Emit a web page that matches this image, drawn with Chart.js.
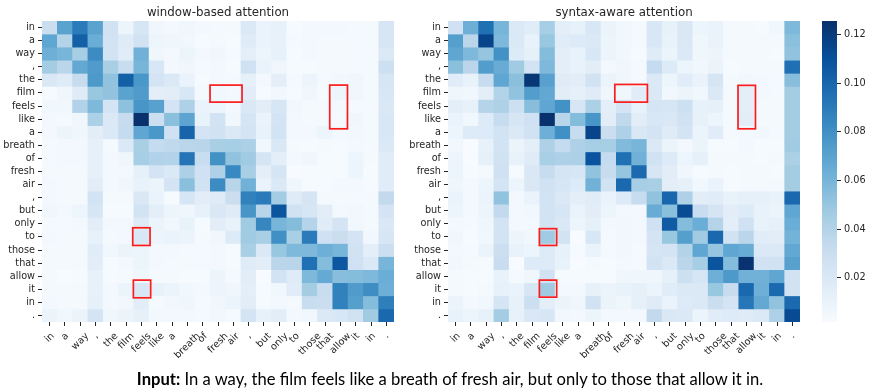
<!DOCTYPE html>
<html>
<head>
<meta charset="utf-8">
<script src="https://cdn.jsdelivr.net/npm/chart.js@4"></script>
<style>
    html, body { margin: 0; padding: 0; background: #fff; }
    #page { position: relative; width: 871px; height: 392px; overflow: hidden; }
    canvas { position: absolute; top: 0; }
    #caption { position: absolute; left: 0; width: 900px; top: 369px; text-align: center; font: 16.6px Lato, sans-serif; color: #000; white-space: nowrap; }
</style>
</head>
<body>
<div id="page">
    <canvas id="left" width="405" height="392" style="left:0"></canvas>
    <canvas id="right" width="405" height="392" style="left:405px"></canvas>
    <canvas id="bar" width="61" height="392" style="left:810px"></canvas>
    <div id="caption"><b>Input:</b> In a way, the film feels like a breath of fresh air, but only to those that allow it in.</div>
</div>
<script>
var tokens = ["in", "a", "way", ",", "the", "film", "feels", "like", "a", "breath", "of", "fresh", "air", ",", "but", "only", "to", "those", "that", "allow", "it", "in", "."];

// attention values x 1000
var windowAttention = [
    [30, 70, 90, 70, 26, 8, 22, 7, 5, 7, 5, 4, 4, 19, 10, 12, 3, 5, 5, 5, 4, 4, 22],
    [68, 40, 103, 64, 25, 17, 26, 8, 7, 6, 3, 4, 3, 17, 10, 12, 4, 5, 4, 4, 4, 4, 22],
    [63, 60, 45, 82, 25, 16, 62, 7, 5, 8, 5, 7, 4, 14, 8, 12, 3, 5, 4, 4, 4, 4, 19],
    [46, 37, 67, 74, 44, 31, 60, 21, 5, 7, 4, 5, 3, 27, 10, 7, 3, 3, 4, 4, 4, 4, 28],
    [20, 17, 32, 75, 52, 103, 76, 24, 19, 10, 3, 5, 4, 13, 5, 14, 4, 8, 4, 6, 7, 4, 22],
    [3, 7, 17, 50, 52, 70, 74, 14, 15, 21, 4, 6, 5, 15, 3, 6, 3, 7, 3, 8, 7, 4, 21],
    [6, 6, 41, 58, 24, 53, 77, 71, 24, 42, 10, 8, 5, 20, 15, 22, 6, 4, 4, 5, 4, 4, 20],
    [5, 4, 7, 43, 19, 32, 125, 29, 54, 69, 11, 25, 6, 23, 10, 24, 5, 4, 4, 4, 7, 4, 21],
    [5, 8, 7, 15, 19, 33, 68, 76, 27, 101, 24, 26, 19, 24, 11, 25, 5, 5, 8, 5, 6, 4, 21],
    [4, 5, 5, 13, 4, 19, 44, 33, 35, 37, 38, 44, 45, 43, 6, 20, 4, 3, 4, 3, 5, 4, 19],
    [4, 5, 5, 13, 5, 7, 45, 41, 40, 93, 31, 79, 52, 47, 23, 14, 5, 7, 3, 3, 8, 4, 16],
    [4, 4, 4, 13, 5, 5, 13, 24, 19, 43, 27, 42, 84, 44, 14, 23, 2, 3, 3, 3, 8, 3, 16],
    [5, 4, 4, 15, 5, 7, 11, 9, 24, 54, 26, 82, 38, 62, 10, 19, 7, 3, 3, 5, 5, 3, 16],
    [5, 4, 4, 25, 4, 4, 20, 10, 3, 22, 15, 17, 30, 87, 90, 46, 17, 23, 4, 4, 4, 4, 34],
    [7, 5, 8, 22, 3, 3, 25, 14, 8, 7, 12, 20, 17, 77, 38, 108, 26, 22, 15, 5, 6, 4, 24],
    [4, 4, 5, 15, 5, 5, 18, 9, 6, 11, 3, 15, 11, 47, 85, 60, 56, 39, 16, 24, 6, 4, 20],
    [5, 4, 4, 12, 4, 5, 21, 8, 10, 9, 4, 7, 18, 47, 44, 80, 44, 90, 27, 30, 24, 6, 22],
    [4, 4, 4, 16, 6, 9, 8, 5, 5, 4, 4, 5, 3, 44, 19, 50, 58, 58, 63, 60, 26, 14, 29],
    [4, 4, 4, 15, 3, 5, 8, 5, 4, 4, 4, 5, 3, 17, 15, 37, 38, 95, 56, 107, 27, 19, 60],
    [4, 2, 3, 12, 3, 4, 7, 4, 4, 3, 3, 8, 4, 15, 2, 25, 17, 58, 66, 55, 56, 58, 64],
    [4, 4, 4, 12, 5, 9, 21, 12, 9, 6, 5, 8, 7, 14, 3, 6, 16, 46, 31, 87, 74, 81, 63],
    [5, 4, 4, 13, 5, 6, 15, 4, 6, 7, 4, 7, 9, 15, 3, 5, 4, 31, 30, 87, 72, 56, 88],
    [9, 6, 9, 24, 7, 9, 13, 5, 5, 5, 4, 6, 4, 24, 12, 15, 5, 6, 19, 21, 26, 47, 99]
];
var syntaxAttention = [
    [27, 63, 95, 60, 19, 16, 45, 14, 12, 21, 9, 6, 4, 21, 12, 20, 8, 10, 4, 4, 3, 6, 58],
    [72, 37, 116, 58, 19, 11, 50, 16, 18, 19, 8, 6, 4, 21, 11, 20, 7, 10, 4, 4, 4, 4, 54],
    [68, 58, 51, 79, 18, 13, 56, 14, 11, 21, 8, 6, 3, 17, 9, 19, 7, 8, 4, 4, 4, 3, 52],
    [54, 37, 73, 65, 47, 25, 58, 14, 11, 15, 5, 7, 4, 33, 18, 8, 6, 9, 3, 4, 4, 4, 95],
    [16, 11, 32, 68, 54, 122, 71, 17, 15, 26, 9, 7, 4, 19, 8, 16, 10, 23, 4, 6, 5, 4, 55],
    [7, 6, 14, 40, 52, 73, 67, 15, 13, 17, 7, 7, 16, 19, 6, 8, 6, 19, 4, 14, 5, 4, 46],
    [14, 12, 39, 42, 28, 55, 68, 79, 22, 43, 14, 24, 11, 23, 22, 28, 12, 13, 4, 14, 4, 4, 46],
    [10, 6, 18, 32, 22, 27, 125, 38, 56, 77, 15, 35, 15, 21, 20, 26, 12, 8, 4, 15, 4, 4, 46],
    [8, 18, 18, 25, 19, 26, 63, 80, 32, 116, 30, 42, 20, 24, 17, 24, 9, 16, 4, 5, 6, 4, 46],
    [6, 2, 12, 25, 9, 14, 42, 33, 42, 45, 45, 57, 60, 19, 9, 5, 9, 3, 3, 5, 3, 3, 47],
    [8, 2, 13, 26, 11, 17, 44, 42, 43, 109, 33, 95, 62, 26, 18, 8, 13, 4, 4, 4, 3, 4, 43],
    [8, 3, 4, 27, 3, 20, 32, 23, 22, 52, 32, 51, 98, 22, 15, 7, 3, 4, 3, 4, 4, 3, 46],
    [7, 5, 8, 24, 8, 20, 26, 22, 18, 62, 26, 99, 45, 44, 14, 13, 6, 10, 3, 4, 4, 4, 46],
    [10, 5, 9, 52, 5, 10, 25, 19, 14, 16, 10, 18, 32, 52, 100, 42, 15, 16, 11, 13, 13, 11, 99],
    [8, 5, 8, 34, 5, 6, 25, 22, 10, 15, 8, 5, 5, 65, 54, 113, 31, 23, 15, 18, 11, 9, 68],
    [5, 4, 7, 25, 5, 5, 25, 20, 8, 13, 5, 6, 5, 27, 105, 56, 64, 39, 14, 27, 11, 13, 64],
    [7, 3, 6, 25, 8, 6, 47, 25, 2, 21, 4, 6, 5, 24, 50, 72, 47, 99, 26, 37, 16, 15, 61],
    [5, 4, 9, 29, 11, 8, 18, 12, 3, 10, 4, 6, 4, 23, 24, 40, 68, 51, 68, 65, 19, 19, 67],
    [6, 4, 3, 31, 2, 18, 18, 11, 2, 4, 3, 5, 4, 25, 19, 37, 45, 108, 56, 124, 26, 26, 71],
    [4, 3, 3, 11, 4, 7, 26, 3, 3, 3, 3, 7, 7, 7, 13, 28, 22, 63, 75, 62, 62, 68, 26],
    [4, 3, 4, 12, 10, 22, 48, 5, 5, 12, 9, 11, 13, 9, 16, 19, 19, 50, 32, 99, 63, 98, 26],
    [9, 5, 6, 23, 12, 29, 14, 9, 7, 26, 9, 7, 13, 17, 10, 18, 19, 30, 24, 92, 67, 52, 98],
    [11, 8, 12, 46, 12, 20, 22, 6, 5, 8, 5, 5, 5, 34, 20, 19, 9, 16, 18, 17, 19, 42, 113]
];

// hand drawn boxes, in cell units: col from, col to, row from, row to
var windowBoxes = [[10.98, 13.07, 4.9, 6.2], [18.8, 19.96, 4.9, 8.24], [5.93, 7.06, 15.8, 17.15], [5.97, 7.1, 19.8, 21.15]];
var syntaxBoxes = [[10.9, 13.03, 4.85, 6.2], [18.95, 20.09, 4.92, 8.24], [5.97, 7.1, 15.87, 17.15], [5.97, 7.1, 19.8, 21.1]];

var barMin = 0.0019;
var barMax = 0.1255;
var barTicks = [0.02, 0.04, 0.06, 0.08, 0.10, 0.12];

var blues = ["#f7fbff", "#deebf7", "#c6dbef", "#9ecae1", "#6baed6", "#4292c6", "#2171b5", "#08519c", "#08306b"];

var textColor = "#262626";

function hexPart(hex, i) {
    return parseInt(hex.substr(1 + i * 2, 2), 16);
}

function colorFor(value) {
    var t = (value / 1000 - barMin) / (barMax - barMin);
    t = Math.max(0, Math.min(1, t)) * (blues.length - 1);
    var i = Math.min(Math.floor(t), blues.length - 2);
    var f = t - i;
    var rgb = [0, 1, 2].map(function (k) {
        return Math.round(hexPart(blues[i], k) * (1 - f) + hexPart(blues[i + 1], k) * f);
    });
    return "rgb(" + rgb.join(",") + ")";
}

// draws the red boxes and the centred, rotated x labels
function overlayPlugin(boxes) {
    return {
        id: "overlay",
        afterDraw: function (chart) {
            var ctx = chart.ctx;
            var x = chart.scales.x;
            var y = chart.scales.y;
            ctx.save();
            ctx.font = "9.7px 'DejaVu Sans'";
            ctx.fillStyle = textColor;
            ctx.textAlign = "center";
            ctx.textBaseline = "middle";
            tokens.forEach(function (word, i) {
                var w = ctx.measureText(word).width;
                var cy = chart.chartArea.bottom + 9 + (w + 10) * 0.707 / 2;
                ctx.save();
                ctx.translate(x.getPixelForTick(i), cy);
                ctx.rotate(-Math.PI / 4);
                ctx.fillText(word, 0, 0);
                ctx.restore();
            });
            ctx.strokeStyle = "#fb1c1c";
            ctx.lineWidth = 1.7;
            boxes.forEach(function (b) {
                var x0 = x.getPixelForValue(b[0] - 0.5);
                var x1 = x.getPixelForValue(b[1] - 0.5);
                var y0 = y.getPixelForValue(b[2]);
                var y1 = y.getPixelForValue(b[3]);
                ctx.strokeRect(x0, y0, x1 - x0, y1 - y0);
            });
            ctx.restore();
        }
    };
}

function makeHeatmap(id, title, matrix, boxes, padRight) {
    var datasets = matrix.map(function (row, r) {
        return {
            data: row.map(function () { return [r, r + 1]; }),
            backgroundColor: row.map(colorFor),
            borderWidth: 0,
            grouped: false,
            barPercentage: 1,
            categoryPercentage: 1
        };
    });
    return new Chart(document.getElementById(id), {
        type: "bar",
        data: { labels: tokens, datasets: datasets },
        plugins: [overlayPlugin(boxes)],
        options: {
            responsive: false,
            animation: false,
            layout: { padding: { right: padRight } },
            plugins: {
                legend: { display: false },
                tooltip: { enabled: false },
                title: {
                    display: true,
                    fullSize: false,
                    text: title,
                    color: textColor,
                    font: { family: "'DejaVu Sans'", size: 11.8, weight: "normal", lineHeight: 1.2 },
                    padding: { top: 5.8, bottom: 1 }
                }
            },
            scales: {
                x: {
                    grid: { offset: false, drawOnChartArea: false, tickLength: 4, tickColor: textColor },
                    border: { display: false },
                    ticks: { display: false },
                    afterFit: function (axis) { axis.height = 70; }
                },
                y: {
                    reverse: true,
                    min: 0,
                    max: tokens.length,
                    grid: { drawOnChartArea: false, tickLength: 4, tickColor: textColor },
                    border: { display: false },
                    afterBuildTicks: function (axis) {
                        axis.ticks = tokens.map(function (t, i) { return { value: i + 0.5 }; });
                    },
                    ticks: {
                        autoSkip: false,
                        padding: 3,
                        color: textColor,
                        font: { family: "'DejaVu Sans'", size: 9.7 },
                        callback: function (value, index) { return tokens[index]; }
                    },
                    afterFit: function (axis) { axis.width = id === "left" ? 42 : 43; }
                }
            }
        }
    });
}

makeHeatmap("left", "window-based attention", windowAttention, windowBoxes, 11);
makeHeatmap("right", "syntax-aware attention", syntaxAttention, syntaxBoxes, 10);

new Chart(document.getElementById("bar"), {
    type: "bar",
    data: {
        labels: [""],
        datasets: [{
            data: [[barMin, barMax]],
            borderWidth: 0,
            barPercentage: 1,
            categoryPercentage: 1,
            backgroundColor: function (c) {
                var area = c.chart.chartArea;
                if (!area) { return blues[4]; }
                var g = c.chart.ctx.createLinearGradient(0, area.bottom, 0, area.top);
                blues.forEach(function (col, i) { g.addColorStop(i / (blues.length - 1), col); });
                return g;
            }
        }]
    },
    options: {
        responsive: false,
        animation: false,
        layout: { padding: { left: 12, top: 21, bottom: 70 } },
        plugins: { legend: { display: false }, tooltip: { enabled: false } },
        scales: {
            x: { display: false },
            y: {
                position: "right",
                min: barMin,
                max: barMax,
                grid: { drawOnChartArea: false, tickLength: 4, tickColor: textColor },
                border: { display: false },
                afterBuildTicks: function (axis) {
                    axis.ticks = barTicks.map(function (v) { return { value: v }; });
                },
                ticks: {
                    padding: 3,
                    color: textColor,
                    font: { family: "'DejaVu Sans'", size: 9.7 },
                    callback: function (value) { return value.toFixed(2); }
                },
                afterFit: function (axis) { axis.width = 34; }
            }
        }
    }
});
</script>
</body>
</html>
